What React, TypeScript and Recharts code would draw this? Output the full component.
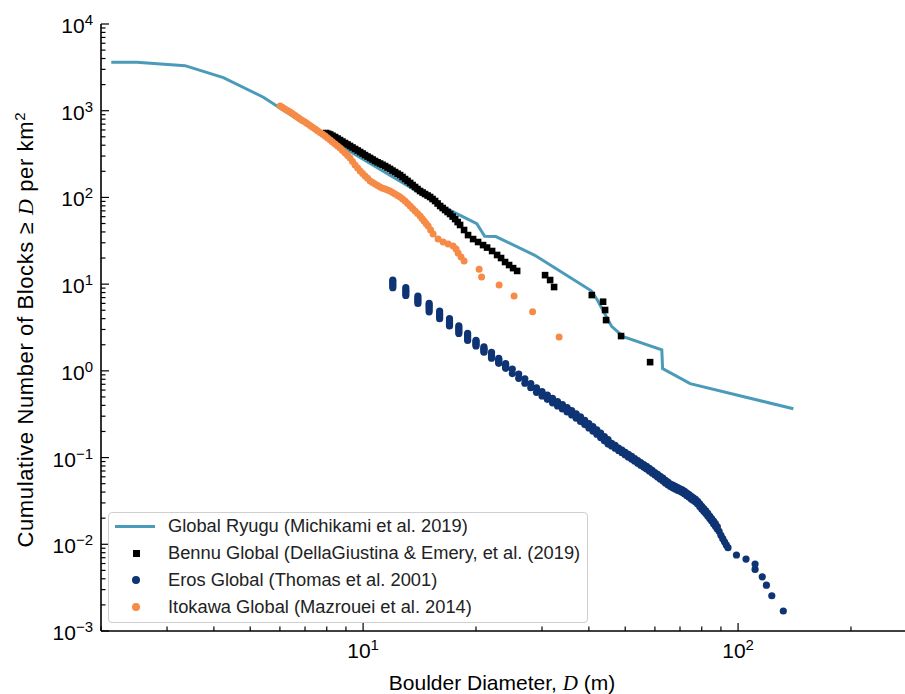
import React from 'react';
import { ComposedChart, Line, Scatter, XAxis, YAxis } from 'recharts';

const SANS = '"Liberation Sans", Arial, Helvetica, sans-serif';
const SERIF = '"Liberation Serif", "Times New Roman", serif';

const RYUGU_COLOR = '#4a9bba';
const BENNU_COLOR = '#000000';
const EROS_COLOR = '#0e3474';
const ITOKAWA_COLOR = '#f58b47';

// Global Ryugu (line): [diameter m, cumulative N per km^2]
const ryuguPoints: [number, number][] = [
  [2.13, 3620], [2.49, 3620], [3.35, 3310], [4.24, 2405], [5.42, 1430], [6.79, 762],
  [9.23, 338], [16.4, 77.3], [20.1, 49.7], [21.1, 35.6], [22.6, 35.4], [28.7, 21.5],
  [40.6, 8.39], [42.1, 6.61], [46.0, 3.26], [49.4, 2.48], [62.6, 1.75], [62.9, 1.06],
  [74.5, 0.713], [140.4, 0.365],
];

// Bennu Global (squares)
const bennuPoints: [number, number][] = [
  [7.97, 553], [8.07, 542], [8.17, 532], [8.29, 514], [8.42, 497], [8.55, 478], [8.68, 459],
  [8.81, 441], [8.95, 424], [9.09, 408], [9.23, 392], [9.37, 377], [9.52, 362], [9.67, 348],
  [9.82, 334], [9.97, 321], [10.12, 308], [10.28, 296], [10.44, 285], [10.60, 274], [10.76, 263],
  [10.93, 254], [11.10, 246], [11.27, 238], [11.45, 230], [11.62, 221], [11.80, 213], [11.98, 204],
  [12.17, 196], [12.36, 188], [12.55, 181], [12.74, 172], [12.94, 163], [13.14, 155], [13.35, 147],
  [13.55, 139], [13.76, 132], [13.97, 125], [14.19, 118.5], [14.41, 113.9], [14.63, 109.4],
  [14.86, 105.2], [15.09, 101.1], [15.32, 95.9], [15.56, 90.9], [15.80, 85.1], [16.05, 79.6],
  [16.30, 75.5], [16.55, 71.6], [16.80, 67.9], [17.06, 64.4], [17.33, 60.2], [17.60, 56.3],
  [17.87, 52.0], [18.14, 48.1], [18.59, 42.1], [19.05, 36.8], [19.65, 33.1], [20.26, 30.6],
  [20.89, 28.2], [21.41, 26.4], [22.08, 24.1], [22.77, 21.7], [23.33, 20.0], [23.91, 18.0],
  [24.51, 16.6], [25.12, 15.3], [25.75, 14.2], [30.57, 12.7], [31.53, 11.15], [32.31, 9.26],
  [40.73, 7.49], [43.65, 6.27], [44.19, 5.03], [44.46, 3.85], [48.75, 2.52], [58.26, 1.26],
];

// Eros Global (circles)
const erosPoints: [number, number][] = [
  [12, 11.1], [12, 10.6], [12, 10.1], [12, 9.6], [12, 9.1],
  [13, 9.1], [13, 8.6], [13, 8.2], [13, 7.8], [13, 7.4],
  [14, 7.3], [14, 6.9], [14, 6.6], [14, 6.3], [14, 6.0],
  [15, 6.0], [15, 5.7], [15, 5.4], [15, 5.1], [15, 4.8],
  [16, 4.9], [16, 4.6], [16, 4.4], [16, 4.2], [16, 4.0],
  [17, 4.0], [17, 3.8], [17, 3.6], [17, 3.45], [17, 3.3],
  [18, 3.3], [18, 3.15], [18, 3.0], [18, 2.85], [18, 2.7],
  [19, 2.7], [19, 2.57], [19, 2.45], [19, 2.34], [19, 2.24],
  [20, 2.25], [20, 2.17], [20, 2.09], [20, 2.01], [20, 1.94],
  [21, 1.89], [21, 1.82], [21, 1.76], [21, 1.70], [21, 1.64],
  [22, 1.63], [22, 1.57], [22, 1.51], [22, 1.45], [22, 1.40],
  [23, 1.39], [23, 1.34], [23, 1.30], [23, 1.26], [23, 1.22],
  [24, 1.21], [24, 1.17], [24, 1.14], [24, 1.10], [24, 1.07],
  [25, 1.05], [25, 0.93], [26, 0.92], [26, 0.82], [27, 0.81], [27, 0.72], [28, 0.715], [28, 0.64],
  [29, 0.635], [29, 0.566], [30, 0.577], [30, 0.513], [31, 0.527], [31, 0.469], [32, 0.481], [32, 0.428],
  [33, 0.443], [33, 0.394], [34, 0.408], [34, 0.363], [35, 0.377], [35, 0.336], [36, 0.349], [36, 0.310],
  [37, 0.319], [37, 0.284], [38, 0.294], [38, 0.261], [39, 0.269], [39, 0.240], [40, 0.247], [40, 0.220],
  [41, 0.227], [41, 0.202], [42, 0.209], [42, 0.186], [43, 0.191], [43, 0.170], [44, 0.175], [44, 0.156],
  [45, 0.161], [45, 0.143],
  [46, 0.146], [46, 0.136], [47, 0.138], [47, 0.1285], [48, 0.129], [48, 0.121], [49, 0.122], [49, 0.114],
  [50, 0.115], [50, 0.107], [51, 0.109], [51, 0.101], [52, 0.103], [52, 0.0961], [53, 0.0974], [53, 0.0909],
  [54, 0.0923], [54, 0.0862], [55, 0.0876], [55, 0.0817], [56, 0.0832], [56, 0.0777], [57, 0.079], [57, 0.0737],
  [58, 0.0752], [58, 0.0702], [59, 0.0712], [59, 0.0665], [60, 0.0673], [60, 0.0628], [61, 0.064], [61, 0.0597],
  [62, 0.0607], [62, 0.0566], [63, 0.0578], [63, 0.0539], [64, 0.0546], [64, 0.051], [65, 0.0521], [65, 0.0486],
  [66, 0.0496], [66, 0.0463], [67, 0.048], [67, 0.0448], [68, 0.0466], [68, 0.0435], [69, 0.0451], [69, 0.0421],
  [70, 0.0437], [70, 0.0408], [71, 0.0423], [71, 0.0395], [72, 0.0408], [72, 0.0381], [73, 0.039], [73, 0.0364],
  [74, 0.0374], [74, 0.0349], [75, 0.0357], [75, 0.0333], [76, 0.0343], [76, 0.032], [77, 0.0329], [77, 0.0307],
  [78, 0.0313], [78, 0.0292], [79, 0.0292], [79, 0.0272], [80, 0.0274], [80, 0.0256], [81, 0.0258], [81, 0.0241],
  [82, 0.0243], [82, 0.0227], [83, 0.0227], [83, 0.0212], [84, 0.0212], [84, 0.0198], [85, 0.0198], [85, 0.0185],
  [86, 0.0185], [86, 0.0173], [87, 0.0173], [87, 0.0161], [88, 0.016], [88, 0.015],
  [89, 0.0141], [90, 0.0127], [91, 0.0116], [92, 0.0107], [93, 0.00984], [94, 0.00914],
  [99, 0.00752], [105, 0.00675], [111, 0.00591], [111, 0.00513], [116, 0.00422], [119, 0.00338],
  [123, 0.00255], [132, 0.00170],
];

// Itokawa Global (circles)
const itokawaPoints: [number, number][] = [
  [6.01, 1133], [6.10, 1089], [6.19, 1046], [6.29, 1005], [6.39, 966], [6.49, 922], [6.59, 880],
  [6.69, 840], [6.79, 802], [6.89, 771], [7.00, 741], [7.11, 707], [7.22, 675], [7.33, 644],
  [7.45, 615], [7.56, 587], [7.68, 561], [7.80, 535], [7.92, 511], [8.04, 484], [8.17, 459],
  [8.29, 435], [8.42, 413], [8.55, 391], [8.68, 371], [8.81, 347], [8.95, 325], [9.09, 304],
  [9.23, 285], [9.37, 259], [9.52, 236], [9.67, 218], [9.82, 202], [9.97, 189], [10.12, 177],
  [10.28, 166], [10.44, 155], [10.60, 149], [10.76, 143], [10.93, 137], [11.10, 132], [11.27, 128],
  [11.45, 125], [11.62, 121.7], [11.80, 118.5], [11.98, 113.9], [12.17, 109.4], [12.36, 105.2],
  [12.55, 101.1], [12.74, 95.9], [12.94, 90.9], [13.14, 85.1], [13.35, 79.6], [13.55, 74.5],
  [13.76, 69.7], [13.97, 65.2], [14.19, 61.0], [14.36, 57.1], [14.54, 53.4], [14.72, 50.0],
  [14.91, 46.8], [15.14, 42.1], [15.37, 37.8], [15.85, 33.1], [16.35, 30.6], [16.86, 29.0],
  [17.38, 27.5], [17.70, 25.4], [17.92, 22.8], [18.25, 20.5], [18.59, 18.5], [20.39, 14.9],
  [20.70, 12.1], [23.05, 9.76], [25.27, 7.29], [28.31, 4.80], [33.32, 2.45],
];

const xTicks = [2, 3, 4, 5, 6, 7, 8, 9, 10, 20, 30, 40, 50, 60, 70, 80, 90, 100, 200];
const yTicks = [
  0.001, 0.002, 0.003, 0.004, 0.005, 0.006, 0.007, 0.008, 0.009,
  0.01, 0.02, 0.03, 0.04, 0.05, 0.06, 0.07, 0.08, 0.09,
  0.1, 0.2, 0.3, 0.4, 0.5, 0.6, 0.7, 0.8, 0.9,
  1, 2, 3, 4, 5, 6, 7, 8, 9,
  10, 20, 30, 40, 50, 60, 70, 80, 90,
  100, 200, 300, 400, 500, 600, 700, 800, 900,
  1000, 2000, 3000, 4000, 5000, 6000, 7000, 8000, 9000,
  10000,
];

const legendItems = [
  { name: 'Global Ryugu (Michikami et al. 2019)', color: RYUGU_COLOR, kind: 'line' },
  { name: 'Bennu Global (DellaGiustina & Emery, et al. (2019)', color: BENNU_COLOR, kind: 'square' },
  { name: 'Eros Global (Thomas et al. 2001)', color: EROS_COLOR, kind: 'circle' },
  { name: 'Itokawa Global (Mazrouei et al. 2014)', color: ITOKAWA_COLOR, kind: 'circle' },
];

const X_DOMAIN: [number, number] = [2, 300];

const toXY = (pts: [number, number][]) => pts.map(([x, y]) => ({ x, y }));
const ryugu = toXY(ryuguPoints);
const bennu = toXY(bennuPoints);
const eros = toXY(erosPoints);
const itokawa = toXY(itokawaPoints);

const isMajor = (v: number) => {
  const l = Math.log10(v);
  return Math.abs(l - Math.round(l)) < 1e-9;
};
const expLabel = (v: number) => {
  const e = Math.round(Math.log10(v));
  return e < 0 ? '\u2212' + Math.abs(e) : String(e);
};

function XTick(props: any) {
  const { x, y, payload } = props;
  const v = payload.value;
  const major = isMajor(v);
  return (
    <g>
      <line x1={x} x2={x} y1={y} y2={y - (major ? 8 : 4.5)} stroke="#000" strokeWidth={1.2} />
      {major && (
        <text x={x} y={y + 27} textAnchor="middle" fontFamily={SANS} fontSize={21} fill="#000">
          10
          <tspan dy={-8} fontSize={15}>{expLabel(v)}</tspan>
        </text>
      )}
    </g>
  );
}

function YTick(props: any) {
  const { x, y, payload } = props;
  const v = payload.value;
  const major = isMajor(v);
  return (
    <g>
      <line x1={x} x2={x + (major ? 8 : 4.5)} y1={y} y2={y} stroke="#000" strokeWidth={1.2} />
      {major && (
        <text x={x - 8} y={y + 9} textAnchor="end" fontFamily={SANS} fontSize={21} fill="#000">
          10
          <tspan dy={-8} fontSize={15}>{expLabel(v)}</tspan>
        </text>
      )}
    </g>
  );
}

const squareShape = (p: any) => (
  <rect x={p.cx - 3.3} y={p.cy - 3.3} width={6.6} height={6.6} fill={BENNU_COLOR} />
);
const erosShape = (p: any) => <circle cx={p.cx} cy={p.cy} r={3.6} fill={EROS_COLOR} />;
const itokawaShape = (p: any) => <circle cx={p.cx} cy={p.cy} r={3.5} fill={ITOKAWA_COLOR} />;

function LegendBox() {
  const centers = [13, 40, 67, 94];
  return (
    <div
      style={{
        position: 'absolute', left: 108, top: 512, width: 478, height: 109,
        border: '1px solid #cfcfcf', borderRadius: 4, background: 'rgba(255,255,255,0.8)',
        fontFamily: SANS, fontSize: 18.3, color: '#222',
      }}
    >
      {legendItems.map((it, i) => (
        <div key={it.name} style={{ position: 'absolute', left: 0, top: centers[i] - 11, height: 22, width: 478 }}>
          {it.kind === 'line' && (
            <div style={{ position: 'absolute', left: 6, top: 9.5, width: 40, height: 3, background: it.color }} />
          )}
          {it.kind === 'square' && (
            <div style={{ position: 'absolute', left: 23.5, top: 7.5, width: 7, height: 7, background: it.color }} />
          )}
          {it.kind === 'circle' && (
            <div style={{ position: 'absolute', left: 23, top: 7, width: 8, height: 8, borderRadius: 4, background: it.color }} />
          )}
          <div style={{ position: 'absolute', left: 59, top: 0, lineHeight: '22px', whiteSpace: 'nowrap' }}>{it.name}</div>
        </div>
      ))}
    </div>
  );
}

export default function App() {
  return (
    <div style={{ position: 'fixed', left: 0, top: 0, width: 905, height: 694, overflow: 'hidden', background: '#fff' }}>
      <div style={{ position: 'absolute', left: 0, top: 0, width: 960, height: 694 }}>
        <ComposedChart width={960} height={694} margin={{ top: 24, right: 43, bottom: 0, left: 0 }}>
          <XAxis
            type="number" dataKey="x" scale="log" domain={X_DOMAIN} allowDataOverflow
            ticks={xTicks} interval={0} tick={XTick} tickLine={false} tickSize={0} tickMargin={0}
            axisLine={{ stroke: '#000', strokeWidth: 1.6 }} height={63}
          />
          <XAxis
            xAxisId="top" orientation="top" type="number" dataKey="x" scale="log" domain={X_DOMAIN} allowDataOverflow
            tick={false} tickLine={false} axisLine={{ stroke: '#000', strokeWidth: 1.6 }} height={0}
          />
          <YAxis
            type="number" dataKey="y" scale="log" domain={[0.001, 10000]} allowDataOverflow
            ticks={yTicks} interval={0} tick={YTick} tickLine={false} tickSize={0} tickMargin={0}
            axisLine={{ stroke: '#000', strokeWidth: 1.6 }} width={101}
          />
          <Scatter data={bennu} fill={BENNU_COLOR} shape={squareShape} isAnimationActive={false} />
          <Scatter data={eros} fill={EROS_COLOR} shape={erosShape} isAnimationActive={false} />
          <Scatter data={itokawa} fill={ITOKAWA_COLOR} shape={itokawaShape} isAnimationActive={false} />
          <Line data={ryugu} dataKey="y" type="linear" stroke={RYUGU_COLOR} strokeWidth={3} dot={false} isAnimationActive={false} />
        </ComposedChart>
      </div>
      <svg width={905} height={694} style={{ position: 'absolute', left: 0, top: 0, pointerEvents: 'none' }}>
        <text
          transform="translate(33,330) rotate(-90)" textAnchor="middle" fontFamily={SANS} fontSize={22} fill="#000"
          textLength={435} lengthAdjust="spacing"
        >
          {'Cumulative Number of Blocks \u2265 '}
          <tspan fontFamily={SERIF} fontStyle="italic">D</tspan>
          {' per km'}
          <tspan dy={-8} fontSize={15}>2</tspan>
        </text>
        <text x={502} y={690} textAnchor="middle" fontFamily={SANS} fontSize={21} fill="#000">
          {'Boulder Diameter, '}
          <tspan fontFamily={SERIF} fontStyle="italic">D</tspan>
          {' (m)'}
        </text>
      </svg>
      <LegendBox />
    </div>
  );
}
